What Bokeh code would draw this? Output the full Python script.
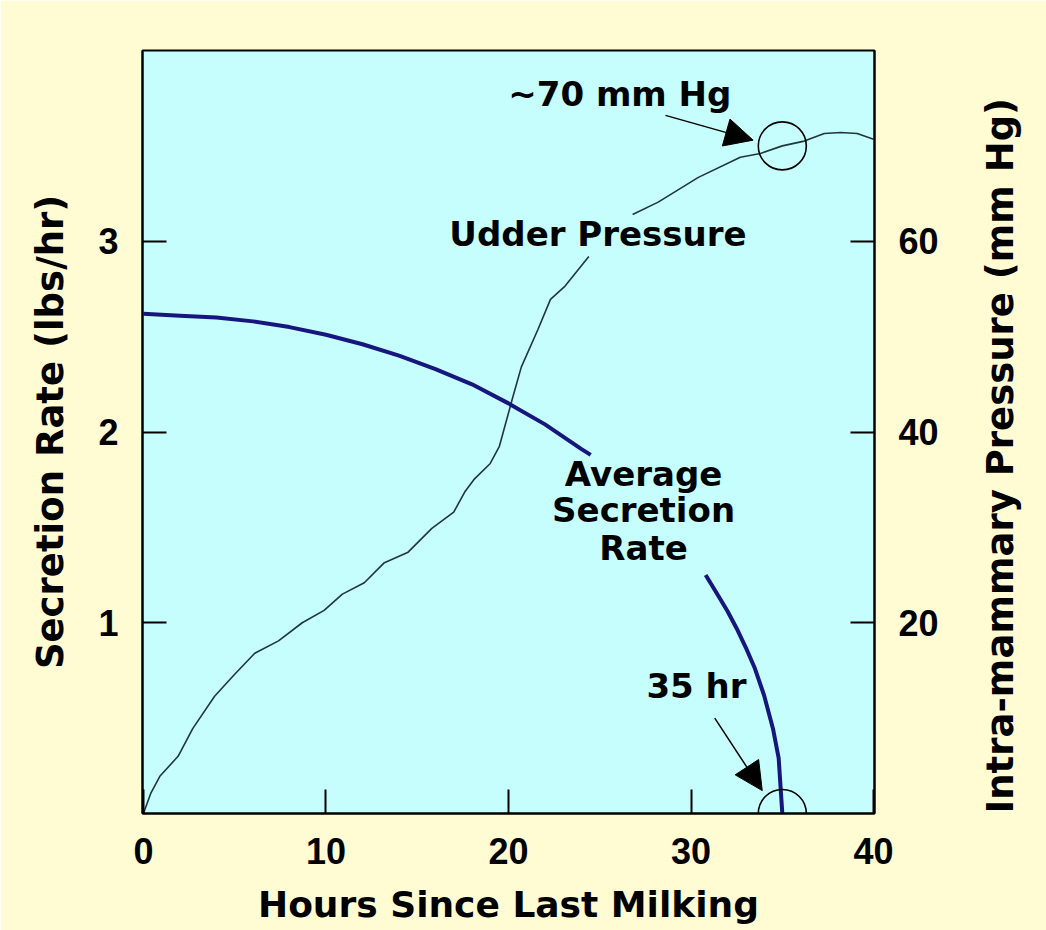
import math
from bokeh.plotting import figure
from bokeh.models import (Range1d, LinearAxis, FixedTicker, Label, Arrow, NormalHead)
from bokeh.embed import file_html
from bokeh.resources import INLINE

nan = float("nan")

# ---- data ----
hours_secretion = [0, 2, 4, 6, 8, 10, 12, 14, 16, 18, 20, 22, 24, 24.5, nan,
                   30.8, 31.5, 32, 32.5, 33, 33.5, 34, 34.5, 34.8, 35]
secretion_rate = [2.62, 2.61, 2.60, 2.58, 2.55, 2.51, 2.46, 2.40, 2.33, 2.25, 2.15, 2.04, 1.91, 1.88, nan,
                  1.25, 1.14, 1.06, 0.97, 0.87, 0.76, 0.62, 0.44, 0.29, 0.0]

hours_pressure = [0, 0.4, 0.9, 1.9, 2.7, 3.9, 5.0, 6.1, 7.4, 8.7, 9.9, 10.9, 12.1, 13.2, 14.5,
                  15.8, 17.0, 17.6, 18.1, 19.0, 19.5, 20.2, 20.7, 21.6, 22.3, 23.1, 24.4, nan,
                  26.8, 28.2, 30.4, 32.7, 33.8, 35.0, 36.2, 37.3, 38.2, 39.1, 40]
udder_pressure = [0, 2.1, 3.9, 6.0, 8.9, 12.3, 14.6, 16.8, 18.1, 20.0, 21.3, 23.0, 24.2, 26.3, 27.4,
                  29.9, 31.6, 33.7, 35.0, 36.7, 38.5, 43.4, 46.8, 50.7, 53.9, 55.3, 58.4, nan,
                  62.8, 64.1, 66.7, 68.8, 69.2, 70.0, 70.5, 71.3, 71.4, 71.3, 70.7]

marked_hours = [35, 35]
marked_pressure = [0, 70]

x_ticks = [0, 10, 20, 30, 40]
left_ticks = [1, 2, 3]
right_ticks = [20, 40, 60]

CREAM = "#FFFCD4"
CYAN = "#C6FDFD"
NAVY = "#16167E"
DARK = "#1F363C"

p = figure(width=1046, height=930,
           x_range=Range1d(-0.05, 40.05), y_range=Range1d(0, 4),
           output_backend="svg", toolbar_location=None,
           min_border_left=142, min_border_right=172,
           min_border_top=50, min_border_bottom=117,
           background_fill_color=CYAN, border_fill_color=CREAM)
p.extra_y_ranges = {"pressure": Range1d(0, 80)}
p.grid.visible = False
p.outline_line_color = "black"
p.outline_line_width = 2

TICK_FONT = "Liberation Sans"
TITLE_FONT = "DejaVu Sans"

def style_axis(ax, ticks, title_size="36px"):
    ax.ticker = FixedTicker(ticks=ticks)
    ax.major_tick_in = 24
    ax.major_tick_out = 0
    ax.minor_tick_line_color = None
    ax.axis_line_color = "black"
    ax.axis_line_width = 2
    ax.major_tick_line_color = "black"
    ax.major_tick_line_width = 2
    ax.major_label_text_font = TICK_FONT
    ax.major_label_text_font_style = "bold"
    ax.major_label_text_font_size = "36px"
    ax.major_label_text_color = "black"
    ax.axis_label_text_font = TITLE_FONT
    ax.axis_label_text_font_style = "bold"
    ax.axis_label_text_font_size = title_size
    ax.axis_label_text_color = "black"

xa = p.xaxis[0]
style_axis(xa, x_ticks)
xa.axis_label = "Hours Since Last Milking"
xa.major_label_standoff = 24
xa.axis_label_standoff = 17

ya = p.yaxis[0]
style_axis(ya, left_ticks, "37px")
ya.axis_label = "Secretion Rate (lbs/hr)"
ya.major_label_standoff = 24
ya.axis_label_standoff = 23

ra = LinearAxis(y_range_name="pressure")
style_axis(ra, right_ticks, "37px")
ra.major_label_standoff = 24
ra.axis_label = " Intra-mammary Pressure (mm Hg)"
ra.axis_label_orientation = math.pi / 2
ra.axis_label_align = "start"
ra.axis_label_standoff = 59
p.add_layout(ra, "right")

# curves
p.line(hours_pressure, udder_pressure, y_range_name="pressure",
       line_color=DARK, line_width=1.6)
p.line(hours_secretion, secretion_rate, line_color=NAVY, line_width=4)

# circles
p.scatter(marked_hours, marked_pressure, y_range_name="pressure", marker="circle",
          size=48, fill_color=None, line_color="black", line_width=1.6)

# arrows
head = dict(size=28, fill_color="black", line_color="black")
p.add_layout(Arrow(end=NormalHead(**head), x_start=28.6, y_start=3.66,
                   x_end=33.4, y_end=3.53, line_width=1.5, line_color="black"))
p.add_layout(Arrow(end=NormalHead(**head), x_start=31.3, y_start=0.50,
                   x_end=33.9, y_end=0.12, line_width=1.5, line_color="black"))

def add_text(x, y, txt):
    p.add_layout(Label(x=x, y=y, text=txt, text_font=TITLE_FONT,
                       text_font_style="bold", text_font_size="34px",
                       text_align="center", text_baseline="middle",
                       text_color="black"))

add_text(26.1, 3.77, "~70 mm Hg")
add_text(24.9, 3.04, "Udder Pressure")
add_text(27.4, 1.78, "Average")
add_text(27.4, 1.59, "Secretion")
add_text(27.4, 1.39, "Rate")
add_text(30.3, 0.67, "35 hr")

open("out.html", "w").write(file_html(p, INLINE))
